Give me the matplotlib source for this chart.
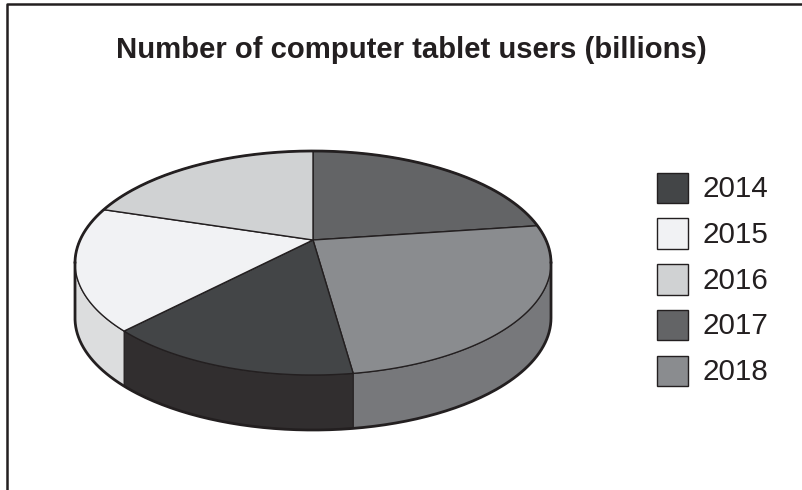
import numpy as np
import matplotlib
matplotlib.use("Agg")
import matplotlib.pyplot as plt
from matplotlib.patches import Polygon, Rectangle

plt.rcParams['font.family'] = ['Liberation Sans', 'DejaVu Sans']

years = ['2014', '2015', '2016', '2017', '2018']
shares = [17.3, 18.3, 17.1, 19.6, 27.7]
top_colors = ['#434547', '#f1f2f4', '#d0d2d3', '#636466', '#8a8c8f']
side_colors = ['#312e2f', '#dcddde', '#d0d2d3', '#636466', '#77787b']
# clockwise from 12 o'clock
slice_order = [3, 4, 0, 1, 2]
title = 'Number of computer tablet users (billions)'

INK = '#231f20'
cx, cy, rx, ry = 313, 263, 238, 112
apex_y = 240
depth = 55


def rim(t, drop=0):
    t = np.radians(t)
    return np.column_stack([cx + rx * np.cos(t), cy - ry * np.sin(t) + drop])


fig = plt.figure(figsize=(8.02, 4.90), dpi=100)
ax = fig.add_axes([0, 0, 1, 1])
ax.set_xlim(0, 802)
ax.set_ylim(490, 0)
ax.axis('off')

# only the left and top of the frame are in the picture
ax.plot([7, 7, 805], [495, 4.5, 4.5], color=INK, lw=1.8)

ax.text(411, 58, title, fontsize=21.1, fontweight='bold', color=INK,
        ha='center', va='baseline')

start = 90
for i in slice_order:
    sweep = shares[i] / sum(shares) * 360
    t = np.linspace(start, start - sweep, 200)

    # wall under the front part of the slice
    front = t[(t % 360) >= 180]
    if len(front) > 1:
        pts = np.vstack([rim(front), rim(front[::-1], depth)])
        ax.add_patch(Polygon(pts, closed=True, fc=side_colors[i], ec=INK, lw=0.7, zorder=2))

    pts = np.vstack([[cx, apex_y], rim(t)])
    ax.add_patch(Polygon(pts, closed=True, fc=top_colors[i], ec=INK, lw=1.0, zorder=3))
    start -= sweep

# heavier outline around the whole pie
t = np.linspace(0, 180, 200)
ax.plot(*rim(t).T, color=INK, lw=2.0, zorder=4, solid_capstyle='round')
t = np.linspace(180, 360, 200)
outline = np.vstack([rim([180]), rim(t, depth), rim([360])])
ax.plot(*outline.T, color=INK, lw=2.0, zorder=4, solid_joinstyle='round')

# legend
for i, (year, color) in enumerate(zip(years, top_colors)):
    y = 172.7 + i * 45.7
    ax.add_patch(Rectangle((657, y), 30.5, 30.5, fc=color, ec=INK, lw=1.0))
    ax.text(703, y + 24.6, year, fontsize=21.3, color=INK, ha='left', va='baseline')

fig.savefig('out.png', dpi=100)
